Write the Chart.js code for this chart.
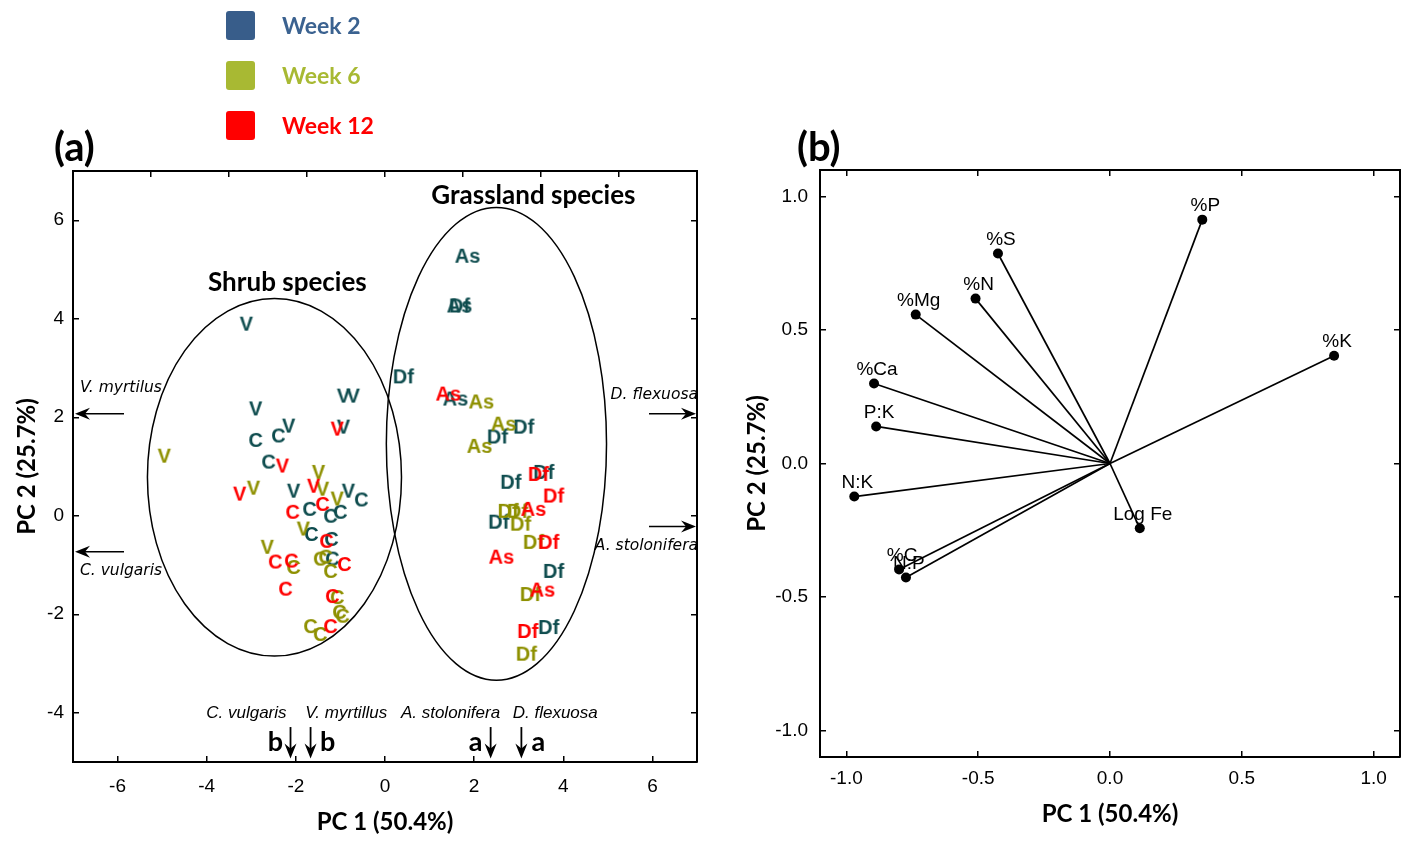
<!DOCTYPE html>
<html>
<head>
<meta charset="utf-8">
<script src="https://cdn.jsdelivr.net/npm/chart.js@4.4.1/dist/chart.umd.min.js"></script>
<style>
  html, body { margin: 0; padding: 0; background: #fff; }
  body { width: 1405px; height: 843px; position: relative; overflow: hidden; font-family: Lato, "Open Sans", sans-serif; }
  #wrapA { position: absolute; left: 0; top: 0; width: 720px; height: 843px; }
  #wrapB { position: absolute; left: 720px; top: 0; width: 685px; height: 843px; }
  .lg-box { position: absolute; left: 226px; width: 29px; height: 29px; border-radius: 3px; }
  .lg-txt { position: absolute; left: 282px; font-weight: bold; font-size: 23px; line-height: 28px; }
  .panel { position: absolute; font-weight: bold; font-size: 40px; line-height: 44px; color: #000; }
</style>
</head>
<body>
<div id="wrapA"><canvas id="pcaA" width="720" height="843"></canvas></div>
<div id="wrapB"><canvas id="pcaB" width="685" height="843"></canvas></div>

<div class="lg-box" style="top:11px;background:#385d8a"></div>
<div class="lg-txt" style="top:11px;color:#3b6290">Week 2</div>
<div class="lg-box" style="top:61px;background:#a8b933"></div>
<div class="lg-txt" style="top:61px;color:#a8b933">Week 6</div>
<div class="lg-box" style="top:111px;background:#ff0000"></div>
<div class="lg-txt" style="top:111px;color:#ff0000">Week 12</div>

<div class="panel" style="left:54px;top:124px">(a)</div>
<div class="panel" style="left:797px;top:124px">(b)</div>

<script>
/* ===============================
   DATA - panel (a), sample scores [PC1, PC2]
================================*/
// Week 2
const wk2V  = [[-3.11,3.90],[-2.90,2.18],[-2.16,1.83],[-0.93,2.44],[-0.71,2.44],[-0.93,1.81],[-2.05,0.51],[-0.82,0.51]];
const wk2C  = [[-2.90,1.54],[-2.39,1.63],[-2.61,1.10],[-0.53,0.33],[-1.69,0.14],[-1.22,0.00],[-1.00,0.08],[-1.65,-0.37],[-1.20,-0.47],[-1.18,-0.87]];
const wk2As = [[1.85,5.28],[1.67,4.27],[1.58,2.38]];
const wk2Df = [[1.67,4.27],[0.41,2.83],[3.11,1.81],[2.52,1.61],[3.56,0.89],[2.82,0.69],[2.55,-0.12],[3.78,-1.12],[3.67,-2.26]];
// Week 6
const wk6V  = [[-4.95,1.22],[-1.49,0.89],[-2.95,0.57],[-1.40,0.55],[-1.07,0.35],[-1.83,-0.26],[-2.64,-0.63]];
const wk6C  = [[-2.05,-1.04],[-1.45,-0.87],[-1.33,-0.83],[-1.22,-1.12],[-1.07,-1.65],[-1.02,-1.95],[-0.95,-2.03],[-1.67,-2.24],[-1.45,-2.40]];
const wk6As = [[2.16,2.32],[2.66,1.87],[2.12,1.42]];
const wk6Df = [[2.76,0.10],[2.97,0.10],[3.04,-0.16],[3.33,-0.53],[3.26,-1.59],[3.17,-2.80]];
// Week 12
const wk12V  = [[-2.30,1.02],[-1.07,1.77],[-3.26,0.45],[-1.60,0.61]];
const wk12C  = [[-2.07,0.08],[-1.40,0.24],[-1.31,-0.51],[-2.46,-0.93],[-2.10,-0.91],[-0.91,-0.98],[-2.23,-1.48],[-1.18,-1.63],[-1.22,-2.24]];
const wk12As = [[1.42,2.48],[3.33,0.14],[2.61,-0.83],[3.53,-1.50]];
const wk12Df = [[3.44,0.85],[3.78,0.41],[3.67,-0.53],[3.20,-2.34]];

const speciesCodes = ['V', 'C', 'As', 'Df'];
const weekNames  = ['Week 12', 'Week 6', 'Week 2'];      // drawing order: first on top
const weekColors = ['#ff0000', '#8e9000', '#0e4c4e'];
const weekSets   = [[wk12V, wk12C, wk12As, wk12Df], [wk6V, wk6C, wk6As, wk6Df], [wk2V, wk2C, wk2As, wk2Df]];

// group ellipses (centre, radii in PC units)
const ellNames = ['Shrub species', 'Grassland species'];
const ellCx = [-2.48, 2.50];
const ellCy = [0.78, 1.46];
const ellRx = [2.85, 2.47];
const ellRy = [3.63, 4.80];
const ellLabelX = [-2.19, 3.33];
const ellLabelY = [4.74, 6.50];

// species means on the axes
const sideNames = ['V. myrtilus', 'C. vulgaris', 'D. flexuosa', 'A. stolonifera'];
const sideY     = [2.07, -0.73, 2.07, -0.22];
const sideLeft  = [true, true, false, false];
const bottomNames   = ['C. vulgaris', 'V. myrtillus', 'A. stolonifera', 'D. flexuosa'];
const bottomLabelX  = [-3.11, -0.87, 1.47, 3.82];
const bottomX       = [-2.12, -1.67, 2.37, 3.06];
const bottomLetters = ['b', 'b', 'a', 'a'];

const xTicksA = [-6, -4, -2, 0, 2, 4, 6];
const yTicksA = [-4, -2, 0, 2, 4, 6];
const topTicksA = [-3, -2, -1, 0, 1, 2, 3];

/* ===============================
   DATA - panel (b), loadings
================================*/
const vecNames = ['%P', '%S', '%N', '%Mg', '%K', '%Ca', 'P:K', 'N:K', 'Log Fe', '%C', 'N:P'];
const vecX = [0.35, -0.425, -0.51, -0.737, 0.85, -0.895, -0.887, -0.97, 0.113, -0.80, -0.774];
const vecY = [0.914, 0.787, 0.618, 0.558, 0.404, 0.30, 0.139, -0.124, -0.243, -0.397, -0.427];
const ticksB = [-1, -0.5, 0, 0.5, 1];

/* ===============================
   HELPERS
================================*/
const TICK_FONT = { family: '"Liberation Sans", Arial, sans-serif', size: 19 };
const TITLE_FONT = { family: 'Lato, "Open Sans", sans-serif', size: 24, weight: 'bold' };

function glyph(txt, color) {
    const c = document.createElement('canvas');
    let g = c.getContext('2d');
    const font = 'bold 20px "Liberation Sans", Arial, sans-serif';
    g.font = font;
    const w = Math.ceil(g.measureText(txt).width) + 2;
    c.width = w; c.height = 24;
    g = c.getContext('2d');
    g.font = font;
    g.fillStyle = color;
    g.textAlign = 'center';
    g.textBaseline = 'middle';
    g.fillText(txt, w / 2, 13);
    return c;
}

function arrow(ctx, x1, y1, x2, y2) {
    const a = Math.atan2(y2 - y1, x2 - x1);
    const c = Math.cos(a), s = Math.sin(a);
    ctx.beginPath();
    ctx.moveTo(x1, y1);
    ctx.lineTo(x2 - 8 * c, y2 - 8 * s);
    ctx.stroke();
    ctx.beginPath();
    ctx.moveTo(x2, y2);
    ctx.lineTo(x2 - 15 * c + 6 * s, y2 - 15 * s - 6 * c);
    ctx.lineTo(x2 - 10 * c, y2 - 10 * s);
    ctx.lineTo(x2 - 15 * c - 6 * s, y2 - 15 * s + 6 * c);
    ctx.closePath();
    ctx.fill();
}

function fixedTicks(list) {
    return scale => { scale.ticks = list.map(v => ({ value: v })); };
}

function frameAxis(extra) {
    return Object.assign({
        type: 'linear',
        grid: { drawOnChartArea: false, tickLength: -6, color: '#000', lineWidth: 1.5 },
        border: { color: '#000', width: 2 },
    }, extra);
}

/* ===============================
   PANEL (a)
================================*/
const datasetsA = [];
weekSets.forEach((sets, w) => {
    sets.forEach((pts, s) => {
        datasetsA.push({
            label: weekNames[w] + ' ' + speciesCodes[s],
            data: pts.map(p => ({ x: p[0], y: p[1] })),
            pointStyle: glyph(speciesCodes[s], weekColors[w]),
            pointRadius: 8
        });
    });
});

const annotA = {
    id: 'annotA',
    beforeDatasetsDraw(chart) {
        const { ctx, scales: { x, y } } = chart;
        ctx.save();
        ctx.strokeStyle = '#000';
        ctx.fillStyle = '#000';
        ctx.lineWidth = 1.5;

        // ellipses + group names
        ellCx.forEach((cx0, i) => {
            const cx = x.getPixelForValue(cx0), cy = y.getPixelForValue(ellCy[i]);
            const rx = Math.abs(x.getPixelForValue(cx0 + ellRx[i]) - cx);
            const ry = Math.abs(y.getPixelForValue(ellCy[i] + ellRy[i]) - cy);
            ctx.beginPath();
            ctx.ellipse(cx, cy, rx, ry, 0, 0, Math.PI * 2);
            ctx.stroke();
        });
        ctx.font = 'bold 26px Lato, "Open Sans", sans-serif';
        ctx.textAlign = 'center';
        ctx.textBaseline = 'middle';
        ellNames.forEach((n, i) => ctx.fillText(n, x.getPixelForValue(ellLabelX[i]), y.getPixelForValue(ellLabelY[i])));

        // side arrows
        ctx.lineWidth = 1.5;
        ctx.font = 'italic 15.5px "DejaVu Sans", Verdana, sans-serif';
        sideNames.forEach((n, i) => {
            const py = y.getPixelForValue(sideY[i]);
            if (sideLeft[i]) {
                arrow(ctx, x.left + 51, py, x.left + 2, py);
                ctx.textAlign = 'left';
                ctx.fillText(n, x.left + 7, py + (i === 0 ? -26 : 19));
            } else {
                arrow(ctx, x.right - 48, py, x.right - 1, py);
                ctx.textAlign = 'right';
                ctx.fillText(n, x.right + 1, py + (i === 2 ? -19 : 19));
            }
        });

        // bottom arrows
        const top = y.getPixelForValue(-4.29), bot = y.getPixelForValue(-4.93);
        ctx.font = 'italic 17px "Liberation Sans", Arial, sans-serif';
        ctx.textAlign = 'center';
        bottomNames.forEach((n, i) => {
            ctx.fillText(n, x.getPixelForValue(bottomLabelX[i]), y.getPixelForValue(-4.02));
        });
        ctx.font = 'bold 27px Lato, "Open Sans", sans-serif';
        ctx.lineWidth = 1.8;
        bottomX.forEach((v, i) => {
            const px = x.getPixelForValue(v);
            arrow(ctx, px, top, px, bot);
            const dx = (i % 2 === 0) ? -15 : 17;
            ctx.fillText(bottomLetters[i], px + dx, y.getPixelForValue(-4.6));
        });
        ctx.restore();
    }
};

new Chart(document.getElementById('pcaA'), {
    type: 'scatter',
    data: { datasets: datasetsA },
    plugins: [annotA],
    options: {
        responsive: false,
        animation: false,
        layout: { padding: { left: 0, top: 171, right: 23, bottom: 0 } },
        plugins: { legend: { display: false }, tooltip: { enabled: false } },
        scales: {
            x: frameAxis({
                position: 'bottom', min: -7, max: 7,
                afterBuildTicks: fixedTicks(xTicksA),
                afterFit: s => { s.height = 81; },
                ticks: { padding: 19, color: '#000', font: TICK_FONT },
                title: { display: true, text: 'PC 1 (50.4%)', color: '#000', font: TITLE_FONT, padding: { top: 0, bottom: 6 } }
            }),
            x2: frameAxis({
                position: 'top', min: -4, max: 4,
                afterBuildTicks: fixedTicks(topTicksA),
                afterFit: s => { s.height = 0; },
                ticks: { display: false }
            }),
            y: frameAxis({
                position: 'left', min: -5, max: 7,
                afterBuildTicks: fixedTicks(yTicksA),
                afterFit: s => { s.width = 73; },
                ticks: { padding: 15, color: '#000', font: TICK_FONT },
                title: { display: true, text: 'PC 2 (25.7%)', color: '#000', font: TITLE_FONT, padding: { top: 13, bottom: 0 } }
            }),
            y2: frameAxis({
                position: 'right', min: -5, max: 7,
                afterBuildTicks: fixedTicks(yTicksA),
                afterFit: s => { s.width = 0; },
                ticks: { display: false }
            })
        }
    }
});

/* ===============================
   PANEL (b)
================================*/
const datasetsB = vecNames.map((n, i) => ({
    label: n,
    data: [{ x: 0, y: 0 }, { x: vecX[i], y: vecY[i] }],
    showLine: true,
    borderColor: '#000',
    backgroundColor: '#000',
    borderWidth: 1.7,
    pointRadius: [0, 5],
    pointBorderWidth: 0
}));

const annotB = {
    id: 'annotB',
    afterDatasetsDraw(chart) {
        const { ctx, scales: { x, y } } = chart;
        ctx.save();
        ctx.fillStyle = '#000';
        ctx.font = '19px "Liberation Sans", Arial, sans-serif';
        ctx.textAlign = 'center';
        ctx.textBaseline = 'middle';
        vecNames.forEach((n, i) => {
            ctx.fillText(n, x.getPixelForValue(vecX[i]) + 3, y.getPixelForValue(vecY[i]) - 14);
        });
        ctx.restore();
    }
};

const fmtB = v => Number(v).toFixed(1);

new Chart(document.getElementById('pcaB'), {
    type: 'scatter',
    data: { datasets: datasetsB },
    plugins: [annotB],
    options: {
        responsive: false,
        animation: false,
        layout: { padding: { left: 0, top: 170, right: 2, bottom: 0 } },
        plugins: { legend: { display: false }, tooltip: { enabled: false } },
        scales: {
            x: frameAxis({
                position: 'bottom', min: -1.1, max: 1.1,
                afterBuildTicks: fixedTicks(ticksB),
                afterFit: s => { s.height = 86; },
                ticks: { padding: 16, color: '#000', font: TICK_FONT, callback: fmtB },
                title: { display: true, text: 'PC 1 (50.4%)', color: '#000', font: TITLE_FONT, padding: { top: 0, bottom: 14 } }
            }),
            x2: frameAxis({
                position: 'top', min: -1.1, max: 1.1,
                afterBuildTicks: fixedTicks(ticksB),
                afterFit: s => { s.height = 0; },
                ticks: { display: false }
            }),
            y: frameAxis({
                position: 'left', min: -1.1, max: 1.1,
                afterBuildTicks: fixedTicks(ticksB),
                afterFit: s => { s.width = 100; },
                ticks: { padding: 18, color: '#000', font: TICK_FONT, callback: fmtB },
                title: { display: true, text: 'PC 2 (25.7%)', color: '#000', font: TITLE_FONT, padding: { top: 23, bottom: 0 } }
            }),
            y2: frameAxis({
                position: 'right', min: -1.1, max: 1.1,
                afterBuildTicks: fixedTicks(ticksB),
                afterFit: s => { s.width = 0; },
                ticks: { display: false }
            })
        }
    }
});
</script>
</body>
</html>
